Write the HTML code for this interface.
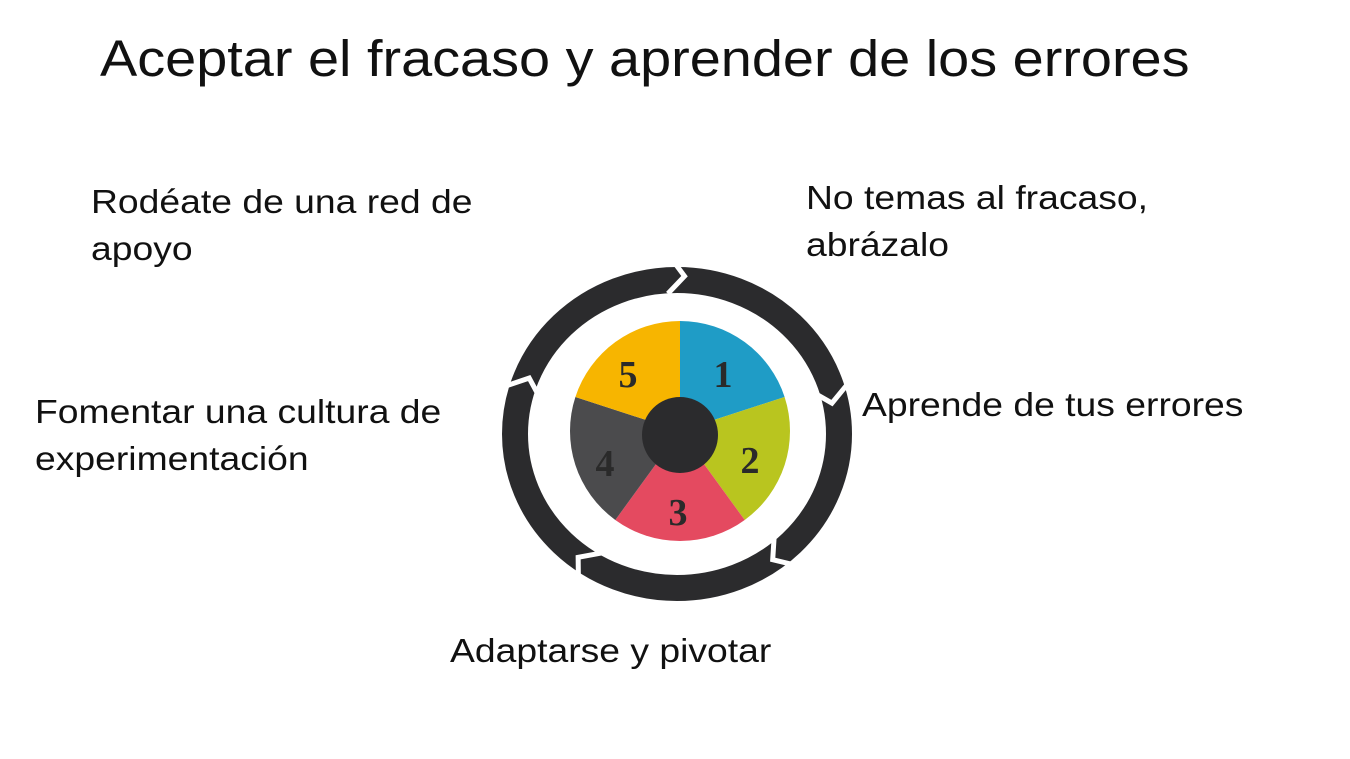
<!DOCTYPE html>
<html><head><meta charset="utf-8"><style>
body{margin:0;width:1350px;height:759px;background:#fff;position:relative;overflow:hidden;font-family:"Liberation Sans",sans-serif;color:#111}
.t{position:absolute;font-size:33px;line-height:47px;white-space:nowrap;transform:scaleX(1.13);transform-origin:0 0}
</style></head><body>
<div class="t" style="left:100px;top:28px;font-size:51px;line-height:62px;transform:scaleX(1.095)">Aceptar el fracaso y aprender de los errores</div>
<div class="t" style="left:91px;top:178px">Rodéate de una red de<br>apoyo</div>
<div class="t" style="left:806px;top:174px">No temas al fracaso,<br>abrázalo</div>
<div class="t" style="left:862px;top:381px">Aprende de tus errores</div>
<div class="t" style="left:35px;top:388px">Fomentar una cultura de<br>experimentación</div>
<div class="t" style="left:450px;top:627px">Adaptarse y pivotar</div>
<svg style="position:absolute;left:0;top:0" width="1350" height="759">
<g transform="translate(677,434)">
<ellipse rx="162" ry="154" fill="none" stroke="#2b2b2d" stroke-width="26"/>
<g stroke="#fff" stroke-width="5" fill="none">
<g transform="rotate(-88)"><polyline points="140,-14 158,2 178,-14"/></g>
<g transform="rotate(-12)"><polyline points="140,-14 158,2 178,-14"/></g>
<g transform="rotate(52)"><polyline points="140,-14 158,2 178,-14"/></g>
<g transform="rotate(128)"><polyline points="140,-14 158,2 178,-14"/></g>
<g transform="rotate(200)"><polyline points="140,-14 158,2 178,-14"/></g>
</g>
</g>
<g transform="translate(680,431)">
<path d="M0,0 L0,-110 A110,110 0 0 1 104.6,-34 Z" fill="#1f9cc6"/>
<path d="M0,0 L104.6,-34 A110,110 0 0 1 64.7,89 Z" fill="#b9c51f"/>
<path d="M0,0 L64.7,89 A110,110 0 0 1 -64.7,89 Z" fill="#e44a60"/>
<path d="M0,0 L-64.7,89 A110,110 0 0 1 -104.6,-34 Z" fill="#4b4b4d"/>
<path d="M0,0 L-104.6,-34 A110,110 0 0 1 0,-110 Z" fill="#f7b500"/>
<circle cx="0" cy="4" r="38" fill="#2b2b2d"/>
<g font-family="Liberation Serif,serif" font-weight="bold" font-size="38" fill="#2a2a2a" text-anchor="middle">
<text x="43" y="-44">1</text><text x="70" y="42">2</text><text x="-2" y="94">3</text><text x="-75" y="45">4</text><text x="-52" y="-44">5</text>
</g>
</g>
</svg>
</body></html>
